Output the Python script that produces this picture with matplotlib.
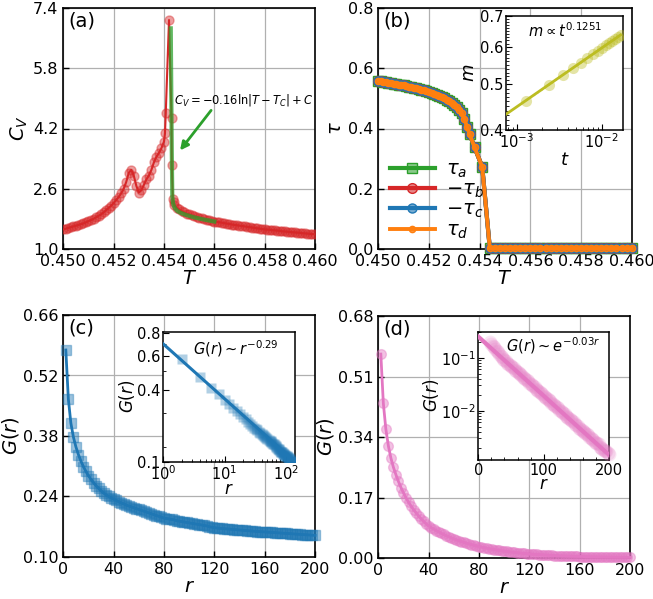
import numpy as np
import matplotlib
matplotlib.use('Agg')
import matplotlib.pyplot as plt
from matplotlib.ticker import FixedLocator, FixedFormatter, MultipleLocator, NullFormatter
from matplotlib.colors import to_rgba

# ---------------- panel (a): specific heat ----------------
T_a_left = np.round(np.arange(0.4500, 0.45405, 0.0001), 5)
Cv_left = [1.52, 1.54, 1.56, 1.58, 1.60, 1.62, 1.64, 1.66, 1.68, 1.71,
           1.74, 1.77, 1.80, 1.84, 1.88, 1.92, 1.97, 2.03, 2.09, 2.15,
           2.22, 2.30, 2.38, 2.48, 2.60, 2.78, 3.02, 3.10, 2.95, 2.68,
           2.50, 2.56, 2.70, 2.85, 2.95, 3.10, 3.30, 3.45, 3.55, 3.68,
           3.85]
T_a_peak = [0.45404, 0.45407, 0.45420, 0.45430, 0.45431, 0.45435, 0.45438]
Cv_peak = [4.07, 4.60, 7.08, 4.47, 3.23, 2.32, 2.24]
T_a_right = np.round(np.arange(0.4544, 0.46005, 0.0001), 5)
Cv_right = [2.17, 2.10, 2.05, 2.01, 1.97, 1.94,
            1.92, 1.89, 1.87, 1.85, 1.83, 1.81, 1.79, 1.775, 1.76, 1.745,
            1.73, 1.72, 1.71, 1.70, 1.685, 1.675, 1.665, 1.65, 1.64, 1.63,
            1.62, 1.61, 1.60, 1.59, 1.58, 1.57, 1.56, 1.55, 1.54, 1.53,
            1.52, 1.515, 1.51, 1.50, 1.495, 1.49, 1.48, 1.47, 1.465, 1.46,
            1.45, 1.445, 1.44, 1.435, 1.43, 1.42, 1.415, 1.41, 1.40, 1.395,
            1.39]
T_fit_a = [0.45427, 0.45429, 0.45431, 0.45433, 0.45436, 0.45440, 0.45446,
           0.45455, 0.45470, 0.45490, 0.45520, 0.45560, 0.45600]
Cv_fit_a = [6.86, 5.20, 3.60, 2.40, 2.22, 2.13, 2.06, 2.00, 1.95, 1.90,
            1.84, 1.78, 1.73]

# ---------------- panel (b): order parameters ----------------
T_b_low = np.round(np.arange(0.4500, 0.45365, 0.0001), 5)
tau_low = [0.558, 0.5565, 0.555, 0.5535, 0.552, 0.5505, 0.549, 0.5475, 0.546, 0.5445,
           0.543, 0.541, 0.539, 0.537, 0.535, 0.533, 0.531, 0.529, 0.527, 0.524,
           0.521, 0.518, 0.515, 0.512, 0.508, 0.504, 0.500, 0.496, 0.491, 0.486,
           0.479, 0.471, 0.462, 0.450, 0.432, 0.405, 0.382]
T_b_mid = [0.4538, 0.4541]
tau_mid = [0.337, 0.273]
T_b_high = np.round(np.arange(0.4544, 0.46005, 0.0002), 5)
tau_high = [0.003, 0.003, 0.003, 0.003, 0.003, 0.003, 0.003, 0.003, 0.003, 0.003,
            0.003, 0.003, 0.003, 0.003, 0.003, 0.003, 0.003, 0.003, 0.003, 0.003,
            0.003, 0.003, 0.003, 0.003, 0.003, 0.003, 0.003, 0.003, 0.003]

# inset (b): m vs t
t_in = [0.0013, 0.0024, 0.0035, 0.0046, 0.0057, 0.0068, 0.0079, 0.0090,
        0.0101, 0.0112, 0.0123, 0.0134, 0.0145, 0.0156, 0.0167]
m_in = [0.462, 0.499, 0.524, 0.542, 0.556, 0.569, 0.580, 0.589,
        0.598, 0.606, 0.613, 0.619, 0.625, 0.631, 0.637]
t_fit = [0.00075, 0.0167]
m_fit = [0.432, 0.637]

# ---------------- panel (c): power-law correlation ----------------
r_c = list(range(2, 202, 2))
G_c = [0.579, 0.466, 0.410, 0.378, 0.355, 0.337, 0.322, 0.309, 0.298, 0.288,
       0.280, 0.272, 0.265, 0.259, 0.253, 0.248, 0.244, 0.240, 0.237, 0.234,
       0.231, 0.228, 0.225, 0.223, 0.220, 0.218, 0.216, 0.214, 0.212, 0.210,
       0.208, 0.206, 0.204, 0.202, 0.200, 0.198, 0.196, 0.194, 0.192, 0.190,
       0.189, 0.188, 0.187, 0.186, 0.184, 0.183, 0.182, 0.181, 0.180, 0.179,
       0.178, 0.177, 0.176, 0.175, 0.174, 0.173, 0.172, 0.170, 0.169, 0.168,
       0.167, 0.1665, 0.166, 0.1655, 0.165, 0.1645, 0.164, 0.1635, 0.163, 0.1625,
       0.162, 0.1615, 0.161, 0.1605, 0.160, 0.1595, 0.159, 0.1587, 0.1583, 0.158,
       0.1576, 0.1572, 0.1568, 0.1564, 0.156, 0.1556, 0.1552, 0.1548, 0.1544, 0.154,
       0.1536, 0.1532, 0.1528, 0.1524, 0.152, 0.1516, 0.1512, 0.1508, 0.1504, 0.150]
r_fit_c = [1, 140]
G_fit_c = [0.70, 0.167]

# ---------------- panel (d): exponential correlation ----------------
r_d = list(range(2, 202, 2))
G_d = [0.573, 0.435, 0.362, 0.315, 0.281, 0.255, 0.234, 0.215, 0.198, 0.183,
       0.169, 0.157, 0.146, 0.136, 0.127, 0.118, 0.110, 0.103, 0.096, 0.090,
       0.0855, 0.0812, 0.0771, 0.0733, 0.0696, 0.0661, 0.0628, 0.0597, 0.0567, 0.0539,
       0.0512, 0.0486, 0.0462, 0.0439, 0.0417, 0.0396, 0.0376, 0.0357, 0.0339, 0.0322,
       0.0306, 0.0291, 0.0276, 0.0262, 0.0249, 0.0237, 0.0225, 0.0214, 0.0203, 0.0193,
       0.0183, 0.0174, 0.0165, 0.0157, 0.0149, 0.0142, 0.0135, 0.0128, 0.0122, 0.0116,
       0.0110, 0.0104, 0.0099, 0.0094, 0.0089, 0.0085, 0.0081, 0.0077, 0.0073, 0.0069,
       0.0066, 0.0063, 0.0060, 0.0057, 0.0054, 0.0051, 0.0048, 0.0046, 0.0044, 0.0042,
       0.0040, 0.0038, 0.0036, 0.0034, 0.0032, 0.0031, 0.0029, 0.0028, 0.0026, 0.0025,
       0.0024, 0.0023, 0.0021, 0.0020, 0.0019, 0.0018, 0.0017, 0.0017, 0.0016, 0.0015]
r_fit_d = [0, 200]
G_fit_d = [0.25, 0.00146]

# tick labels
yt_a = [1.0, 2.6, 4.2, 5.8, 7.4]
yt_b = [0.0, 0.2, 0.4, 0.6, 0.8]
yt_c = [0.10, 0.24, 0.38, 0.52, 0.66]
yt_d = [0.00, 0.17, 0.34, 0.51, 0.68]
xt_T = [0.450, 0.452, 0.454, 0.456, 0.458, 0.460]
xt_r = [0, 40, 80, 120, 160, 200]

RED = '#d62728'; GREEN = '#2ca02c'; BLUE = '#1f77b4'; ORANGE = '#ff7f0e'
PINK = '#e377c2'; OLIVE = '#bcbd22'

fig = plt.figure(figsize=(6.53, 5.99), dpi=100)
W, H = 653, 599
LBL = 14

def px_axes(l, t, r, b):
    return fig.add_axes([l / W, 1 - b / H, (r - l) / W, (b - t) / H])

def style_main(ax):
    ax.tick_params(direction='in', labelsize=11.5, length=4, width=1,
                   top=False, right=False)
    ax.grid(True, color='#b0b0b0', lw=0.9)
    ax.set_axisbelow(True)
    for s in ax.spines.values():
        s.set_linewidth(1.2)

def style_inset(ax):
    ax.tick_params(direction='in', which='both', labelsize=10.5,
                   top=False, right=False, pad=2)
    ax.tick_params(which='major', length=4)
    ax.tick_params(which='minor', length=2)
    for s in ax.spines.values():
        s.set_linewidth(1.1)

# ---------- (a) ----------
axa = px_axes(63.3, 8, 315, 249)
style_main(axa)
T_a = list(T_a_left) + T_a_peak + list(T_a_right)
Cv = Cv_left + Cv_peak + Cv_right
axa.plot(T_a, Cv, '-o', color=RED, lw=1.5, ms=6.5,
         mfc=to_rgba(RED, 0.45), mec=to_rgba(RED, 0.4), zorder=3)
axa.plot(T_fit_a, Cv_fit_a, '-', color=GREEN, lw=3, alpha=0.75, zorder=4)
axa.set_xlim(0.450, 0.460)
axa.set_ylim(1.0, 7.4)
axa.set_xticks(xt_T)
axa.set_xticklabels(['%.3f' % v for v in xt_T])
axa.set_yticks(yt_a)
axa.set_yticklabels(['%.1f' % v for v in yt_a])
axa.set_xlabel('$T$', fontsize=LBL, labelpad=0)
axa.set_ylabel('$C_V$', fontsize=LBL, labelpad=2)
axa.text(0.02, 0.985, '(a)', transform=axa.transAxes, fontsize=14, va='top', ha='left')
axa.text(0.45441, 4.96, r'$C_V=-0.16\ln|T-T_C|+C$', fontsize=8.3, va='center', ha='left')
axa.annotate('', xy=(0.45457, 3.56), xytext=(0.45594, 4.74),
             arrowprops=dict(arrowstyle='-|>', color=GREEN, lw=2, mutation_scale=12))

# ---------- (b) ----------
axb = px_axes(378.3, 8, 631.7, 249)
style_main(axb)
T_b = list(T_b_low) + T_b_mid + list(T_b_high)
tau_a = tau_low + tau_mid + tau_high
tau_b = [-v for v in tau_a]
tau_c = [-v for v in tau_a]
tau_d = tau_a
axb.plot(T_b, tau_a, '-s', color=GREEN, lw=3, ms=7.5,
         mfc=to_rgba(GREEN, 0.55), mec=GREEN, label=r'$\tau_a$', zorder=3, clip_on=False)
axb.plot(T_b, [-v for v in tau_b], '-o', color=RED, lw=3, ms=7,
         mfc=to_rgba(RED, 0.55), mec=RED, label=r'$-\tau_b$', zorder=4, clip_on=False)
axb.plot(T_b, [-v for v in tau_c], '-o', color=BLUE, lw=3, ms=6.5,
         mfc=to_rgba(BLUE, 0.6), mec=BLUE, label=r'$-\tau_c$', zorder=5, clip_on=False)
axb.plot(T_b, tau_d, '-o', color=ORANGE, lw=2.8, ms=4.5,
         mfc=to_rgba(ORANGE, 0.8), mec=ORANGE, label=r'$\tau_d$', zorder=6, clip_on=False)
axb.set_xlim(0.450, 0.460)
axb.set_ylim(0.0, 0.8)
axb.set_xticks(xt_T)
axb.set_xticklabels(['%.3f' % v for v in xt_T])
axb.set_yticks(yt_b)
axb.set_yticklabels(['%.1f' % v for v in yt_b])
axb.set_xlabel('$T$', fontsize=LBL, labelpad=0)
axb.set_ylabel(r'$\tau$', fontsize=LBL, labelpad=2)
axb.text(0.02, 0.985, '(b)', transform=axb.transAxes, fontsize=14, va='top', ha='left')
axb.legend(loc='upper left', bbox_to_anchor=(0.0, 0.42), frameon=False, fontsize=14,
           handlelength=2.3, labelspacing=0.0, handletextpad=0.6, borderaxespad=0.2)

# inset (b)
axbi = px_axes(506, 15.7, 623.3, 130)
style_inset(axbi)
axbi.set_xscale('log'); axbi.set_yscale('log')
axbi.plot(t_in, m_in, 'o', ms=8, color=to_rgba(OLIVE, 0.4), mec='none', zorder=3)
axbi.plot(t_in, m_in, ':', color=OLIVE, lw=1.2, zorder=4)
axbi.plot(t_fit, m_fit, '-', color=OLIVE, lw=2, zorder=5)
axbi.set_xlim(0.00075, 0.018)
axbi.set_ylim(0.4, 0.7)
axbi.yaxis.set_major_locator(FixedLocator([0.4, 0.5, 0.6, 0.7]))
axbi.yaxis.set_major_formatter(FixedFormatter(['0.4', '0.5', '0.6', '0.7']))
axbi.yaxis.set_minor_locator(FixedLocator(list(np.arange(0.41, 0.70, 0.01))))
axbi.yaxis.set_minor_formatter(NullFormatter())
axbi.set_xlabel('$t$', fontsize=13, labelpad=0)
axbi.set_ylabel('$m$', fontsize=13, labelpad=1)
axbi.text(0.5, 0.95, r'$m\propto t^{0.1251}$', transform=axbi.transAxes,
          fontsize=10.5, ha='center', va='top')

# ---------- (c) ----------
axc = px_axes(63.3, 315, 315, 557)
style_main(axc)
axc.plot(r_c, G_c, '-s', color=BLUE, lw=2, ms=7,
         mfc=to_rgba(BLUE, 0.45), mec=to_rgba(BLUE, 0.4), zorder=3, clip_on=False)
axc.set_xlim(0, 200)
axc.set_ylim(0.10, 0.66)
axc.set_xticks(xt_r)
axc.set_yticks(yt_c)
axc.set_yticklabels(['%.2f' % v for v in yt_c])
axc.set_xlabel('$r$', fontsize=LBL, labelpad=0)
axc.set_ylabel('$G(r)$', fontsize=LBL, labelpad=1)
axc.text(0.02, 0.985, '(c)', transform=axc.transAxes, fontsize=14, va='top', ha='left')

axci = px_axes(163, 331.7, 295, 461.7)
style_inset(axci)
axci.set_xscale('log'); axci.set_yscale('log')
axci.plot(r_c, G_c, 's', ms=7, color=to_rgba(BLUE, 0.35), mec='none', zorder=3)
axci.plot(r_fit_c, G_fit_c, '-', color=BLUE, lw=2.2, zorder=4)
axci.set_xlim(1, 140)
axci.set_ylim(0.167, 0.81)
axci.yaxis.set_major_locator(FixedLocator([0.167, 0.4, 0.6, 0.8]))
axci.yaxis.set_major_formatter(FixedFormatter(['0.1', '0.4', '0.6', '0.8']))
axci.yaxis.set_minor_locator(FixedLocator([0.2, 0.3, 0.5, 0.7]))
axci.yaxis.set_minor_formatter(NullFormatter())
axci.set_xlabel('$r$', fontsize=12, labelpad=-2)
axci.set_ylabel('$G(r)$', fontsize=12, labelpad=0)
axci.text(0.55, 0.95, r'$G(r)\sim r^{-0.29}$', transform=axci.transAxes,
          fontsize=10.5, ha='center', va='top')

# ---------- (d) ----------
axd = px_axes(378.3, 316, 630, 558)
style_main(axd)
axd.plot(r_d, G_d, '-o', color=PINK, lw=2, ms=7,
         mfc=to_rgba(PINK, 0.45), mec=to_rgba(PINK, 0.4), zorder=3, clip_on=False)
axd.set_xlim(0, 200)
axd.set_ylim(0.0, 0.68)
axd.set_xticks(xt_r)
axd.set_yticks(yt_d)
axd.set_yticklabels(['%.2f' % v for v in yt_d])
axd.set_xlabel('$r$', fontsize=LBL, labelpad=0)
axd.set_ylabel('$G(r)$', fontsize=LBL, labelpad=1)
axd.text(0.02, 0.985, '(d)', transform=axd.transAxes, fontsize=14, va='top', ha='left')

axdi = px_axes(478.3, 331.7, 609, 460)
style_inset(axdi)
axdi.set_yscale('log')
r_in_d = [r for r in r_d if r >= 18]
G_in_d = [g for r, g in zip(r_d, G_d) if r >= 18]
axdi.plot(r_in_d, G_in_d, 'o', ms=10, color=to_rgba(PINK, 0.18), mec='none',
          zorder=3, clip_on=False)
axdi.plot(r_fit_d, G_fit_d, '-', color=PINK, lw=3, zorder=4)
axdi.set_xlim(0, 200)
axdi.set_ylim(0.00117, 0.31)
axdi.set_xticks([0, 100, 200])
axdi.xaxis.set_minor_locator(MultipleLocator(20))
axdi.set_xlabel('$r$', fontsize=12, labelpad=-2)
axdi.set_ylabel('$G(r)$', fontsize=12, labelpad=0)
axdi.text(0.57, 0.97, r'$G(r)\sim e^{-0.03r}$', transform=axdi.transAxes,
          fontsize=10.5, ha='center', va='top')

fig.savefig('out.png', dpi=100)
